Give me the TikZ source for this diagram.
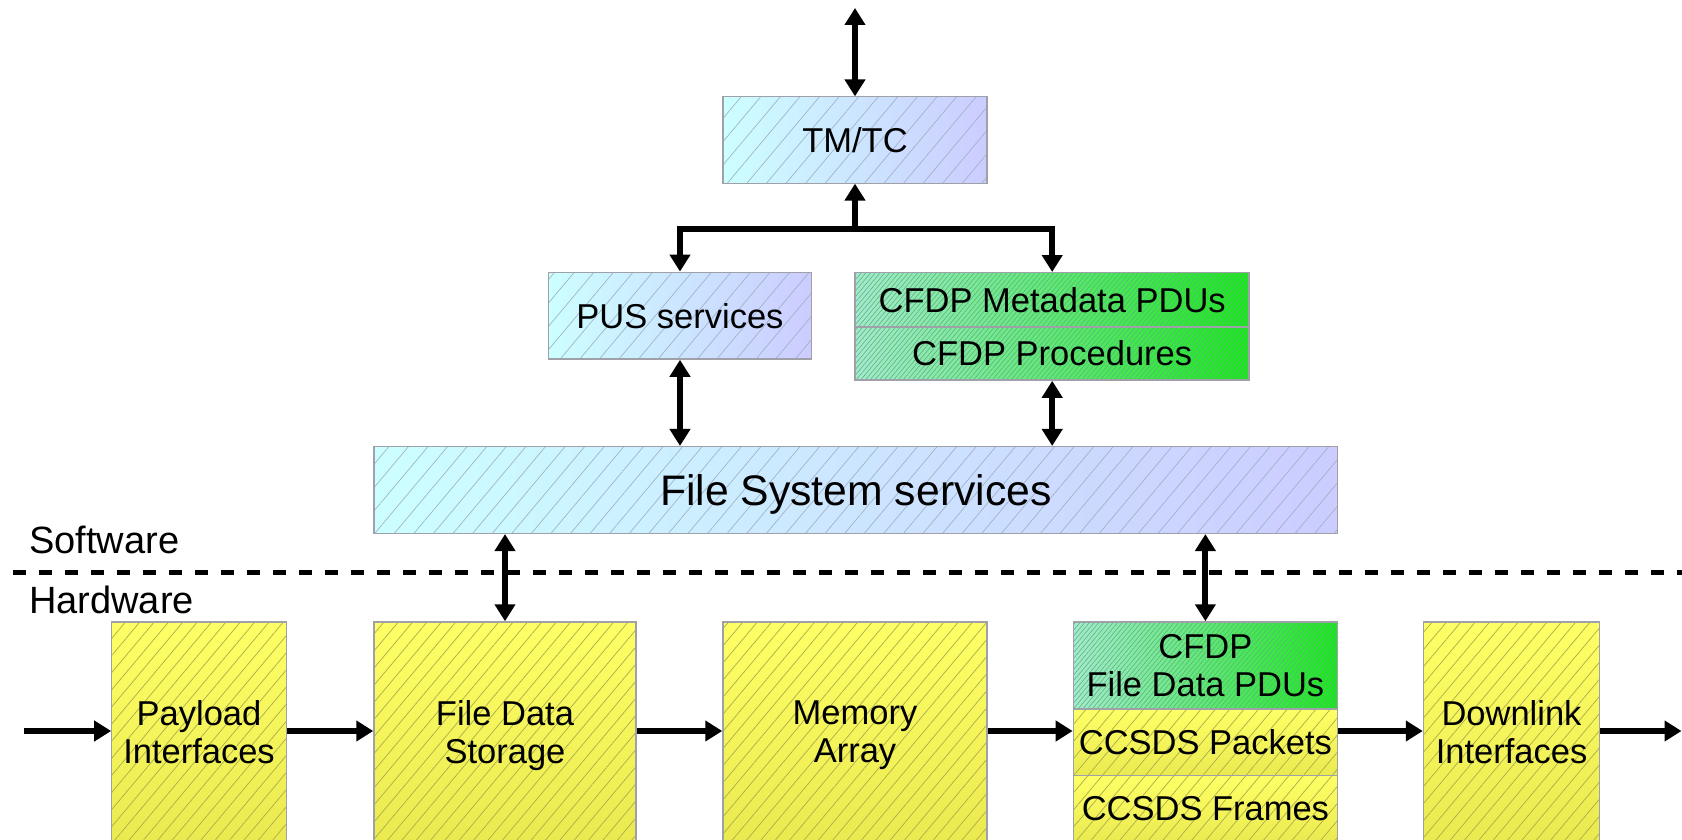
\documentclass[tikz,border=0pt]{standalone}
\usepackage{fontspec}
\setmainfont{Liberation Sans}
\usetikzlibrary{arrows.meta,patterns.meta}

% box fills and hatching
\definecolor{blueA}{HTML}{CCFFFF}
\definecolor{blueB}{HTML}{CCCCFF}
\definecolor{blueH}{HTML}{A0B0C4}
\definecolor{greenA}{HTML}{A6E8D0}
\definecolor{greenB}{HTML}{18E818}
\definecolor{greenH}{HTML}{58B878}
\definecolor{ylwA}{HTML}{FFFF66}
\definecolor{ylwB}{HTML}{EAEA50}
\definecolor{ylwH}{HTML}{ACAC4C}
\definecolor{edge}{HTML}{A0A0A8}

\tikzset{
  box/.style={draw=edge, line width=1.5pt, rectangle, inner sep=0pt, align=center,
    text depth=0pt, font=\fontsize{34.5}{38.5}\selectfont},
  bluebox/.style={box, preaction={left color=blueA, right color=blueB},
    pattern={Lines[angle=50,distance=15pt,line width=0.65pt]}, pattern color=blueH},
  greenbox/.style={box, preaction={left color=greenA, right color=greenB},
    pattern={Lines[angle=50,distance=3.6pt,line width=0.6pt]}, pattern color=greenH},
  ylwbox/.style={box, preaction={top color=ylwA, bottom color=ylwB},
    pattern={Lines[angle=50,distance=11pt,line width=0.7pt]}, pattern color=ylwH},
  tip/.tip={Triangle[width=20pt,length=17pt]},
  link/.style={line width=6pt, tip-tip},
  flow/.style={line width=6pt, -tip},
  side/.style={anchor=base west, inner sep=0pt, font=\fontsize{38}{41}\selectfont},
}

\begin{document}
\begin{tikzpicture}[x=1pt, y=-1pt]
\useasboundingbox (0,0) rectangle (1682,840);
\clip (0,0) rectangle (1682,840);

% software blocks
\node[bluebox, minimum width=264pt, minimum height=86.6pt] (tmtc) at (855,140) {TM/TC};
\node[bluebox, minimum width=263pt, minimum height=86.7pt] (pus) at (680,315.7) {PUS services};
\node[greenbox, minimum width=394pt, minimum height=54.4pt] (meta) at (1052.2,299.5) {CFDP Metadata PDUs};
\node[greenbox, minimum width=394pt, minimum height=53.3pt] (proc) at (1052.2,353.4) {CFDP Procedures};
\node[bluebox, minimum width=963.5pt, minimum height=86.6pt,
      font=\fontsize{42.7}{46}\selectfont] (fs) at (855.8,490) {File System services};

% hardware blocks
\node[ylwbox, minimum width=175pt, minimum height=219.5pt] (payload) at (199,731.75) {Payload\\Interfaces};
\node[ylwbox, minimum width=262pt, minimum height=219.5pt] (fds) at (505,731.75) {File Data\\Storage};
\node[ylwbox, minimum width=264pt, minimum height=219.5pt] (mem) at (855,731.75) {Memory\\Array};
\node[greenbox, minimum width=264pt, minimum height=87pt] (fdpdu) at (1205.4,665.5) {CFDP\\File Data PDUs};
\node[ylwbox, minimum width=264pt, minimum height=66.7pt] (pkts) at (1205.4,742.35) {CCSDS Packets};
\node[ylwbox, minimum width=264pt, minimum height=65.8pt] (frames) at (1205.4,808.6) {CCSDS Frames};
\node[ylwbox, minimum width=176pt, minimum height=219.5pt] (dl) at (1511.5,731.75) {Downlink\\Interfaces};

% software / hardware boundary
\node[side] (sw) at (29,553) {Software};
\node[side] (hw) at (29,613) {Hardware};
\coordinate (bl) at (13,572.3);
\coordinate (br) at (1682,572.3);
\draw[line width=5.5pt, dash pattern=on 13.4pt off 12.6pt] (bl) -- (br);

% command and telemetry paths
\coordinate (ground) at (855,8);
\coordinate (bus) at (855,229);
\draw[link] (ground) -- (tmtc.north);
\draw[flow] (bus) -- (tmtc.south);
\draw[link, line join=miter] (pus.north) |- (bus) -| (meta.north);
\draw[link] (pus.south) -- (pus.south |- fs.north);
\draw[link] (proc.south) -- (proc.south |- fs.north);
\draw[link] (fds.north |- fs.south) -- (fds.north);
\draw[link] (fdpdu.north |- fs.south) -- (fdpdu.north);

% data flow through the hardware chain
\coordinate (in) at (23.6,731);
\coordinate (out) at (1681.5,731);
\draw[flow] (in) -- (in -| payload.west);
\draw[flow] (payload.east |- in) -- (in -| fds.west);
\draw[flow] (fds.east |- in) -- (in -| mem.west);
\draw[flow] (mem.east |- in) -- (in -| pkts.west);
\draw[flow] (pkts.east |- in) -- (in -| dl.west);
\draw[flow] (dl.east |- in) -- (out);
\end{tikzpicture}
\end{document}
